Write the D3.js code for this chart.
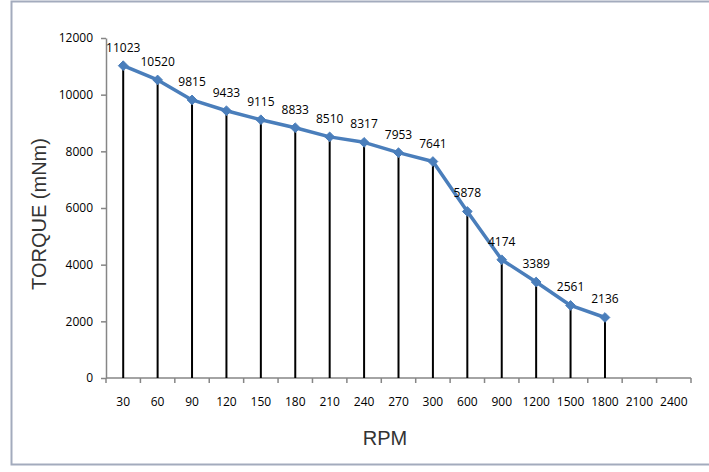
<!DOCTYPE html>
<html>
<head>
<meta charset="utf-8">
<script src="https://cdn.jsdelivr.net/npm/d3@7"></script>
<style>
  body { margin: 0; background: #fff; }
  text { font-family: "Open Sans", "Liberation Sans", sans-serif; }
</style>
</head>
<body>
<svg id="chart"></svg>
<script>
// chart values
const rpm = ["30", "60", "90", "120", "150", "180", "210", "240", "270", "300",
             "600", "900", "1200", "1500", "1800", "2100", "2400"];
const torque = [11023, 10520, 9815, 9433, 9115, 8833, 8510, 8317, 7953, 7641,
                5878, 4174, 3389, 2561, 2136];
const yTicks = [0, 2000, 4000, 6000, 8000, 10000, 12000];

const width = 709, height = 472;
const margin = {top: 38, right: 18, bottom: 94, left: 106};

const svg = d3.select('#chart')
    .attr('width', width)
    .attr('height', height);

// outer frame
svg.append('rect')
    .attr('x', 11.5).attr('y', 1.5)
    .attr('width', width + 10).attr('height', 463)
    .attr('fill', '#fff')
    .attr('stroke', '#a3abbd')
    .attr('stroke-width', 2);

const innerW = width - margin.left - margin.right;
const innerH = height - margin.top - margin.bottom;

const chart = svg.append('g')
    .attr('transform', `translate(${margin.left}, ${margin.top})`);

const xScale = d3.scaleBand()
    .domain(rpm)
    .range([0, innerW]);

const yScale = d3.scaleLinear()
    .domain([0, 12000])
    .range([innerH, 0]);

const pts = torque.map((v, i) => ({x: rpm[i], y: v}));
const cx = d => xScale(d.x) + xScale.bandwidth() / 2;

// y axis
const yAxis = d3.axisLeft(yScale)
    .tickValues(yTicks)
    .tickFormat(d3.format('d'))
    .tickSize(5)
    .tickSizeOuter(0)
    .tickPadding(8);

const yG = chart.append('g').call(yAxis);
yG.select('.domain').attr('stroke', '#868686').attr('stroke-width', 1.5);
yG.selectAll('.tick line').attr('stroke', '#868686').attr('stroke-width', 1.5);
yG.selectAll('.tick text')
    .attr('fill', '#000')
    .style('font-size', '12px');

// x axis with ticks at category borders
const xG = chart.append('g')
    .attr('transform', `translate(0, ${innerH})`);

xG.append('line')
    .attr('x1', 0).attr('x2', innerW)
    .attr('stroke', '#868686').attr('stroke-width', 1.5);

xG.selectAll('.xtick')
    .data(rpm.concat(['end']))
    .join('line')
    .attr('class', 'xtick')
    .attr('x1', (d, i) => i * xScale.step())
    .attr('x2', (d, i) => i * xScale.step())
    .attr('y1', 0).attr('y2', 5)
    .attr('stroke', '#868686').attr('stroke-width', 1.5);

xG.selectAll('.xlabel')
    .data(rpm)
    .join('text')
    .attr('class', 'xlabel')
    .attr('x', d => xScale(d) + xScale.bandwidth() / 2)
    .attr('y', 28)
    .attr('text-anchor', 'middle')
    .style('font-size', '12px')
    .text(d => d);

// drop lines
chart.selectAll('.drop')
    .data(pts)
    .join('line')
    .attr('class', 'drop')
    .attr('x1', cx).attr('x2', cx)
    .attr('y1', d => yScale(d.y))
    .attr('y2', innerH)
    .attr('stroke', '#000')
    .attr('stroke-width', 2);

// line
const line = d3.line()
    .x(cx)
    .y(d => yScale(d.y));

chart.append('path')
    .datum(pts)
    .attr('fill', 'none')
    .attr('stroke', '#4a7ebb')
    .attr('stroke-width', 3.5)
    .attr('stroke-linejoin', 'round')
    .attr('d', line);

// diamond markers
chart.selectAll('.marker')
    .data(pts)
    .join('path')
    .attr('class', 'marker')
    .attr('transform', d => `translate(${cx(d)}, ${yScale(d.y)})`)
    .attr('d', d3.symbol().type(d3.symbolDiamond2).size(60))
    .attr('fill', '#4a7ebb')
    .attr('stroke', '#4a7ebb')
    .attr('stroke-width', 1);

// data labels
chart.selectAll('.dlabel')
    .data(pts)
    .join('text')
    .attr('class', 'dlabel')
    .attr('x', cx)
    .attr('y', d => yScale(d.y) - 14)
    .attr('text-anchor', 'middle')
    .style('font-size', '12px')
    .text(d => d.y);

// axis titles
svg.append('text')
    .attr('transform', 'translate(46, 214) rotate(-90)')
    .attr('text-anchor', 'middle')
    .style('font-family', '"Liberation Sans", Arial, sans-serif')
    .style('font-size', '20px')
    .attr('fill', '#333')
    .text('TORQUE (mNm)');

svg.append('text')
    .attr('x', 385)
    .attr('y', 445)
    .attr('text-anchor', 'middle')
    .style('font-family', '"Liberation Sans", Arial, sans-serif')
    .style('font-size', '20px')
    .attr('fill', '#333')
    .text('RPM');
</script>
</body>
</html>
